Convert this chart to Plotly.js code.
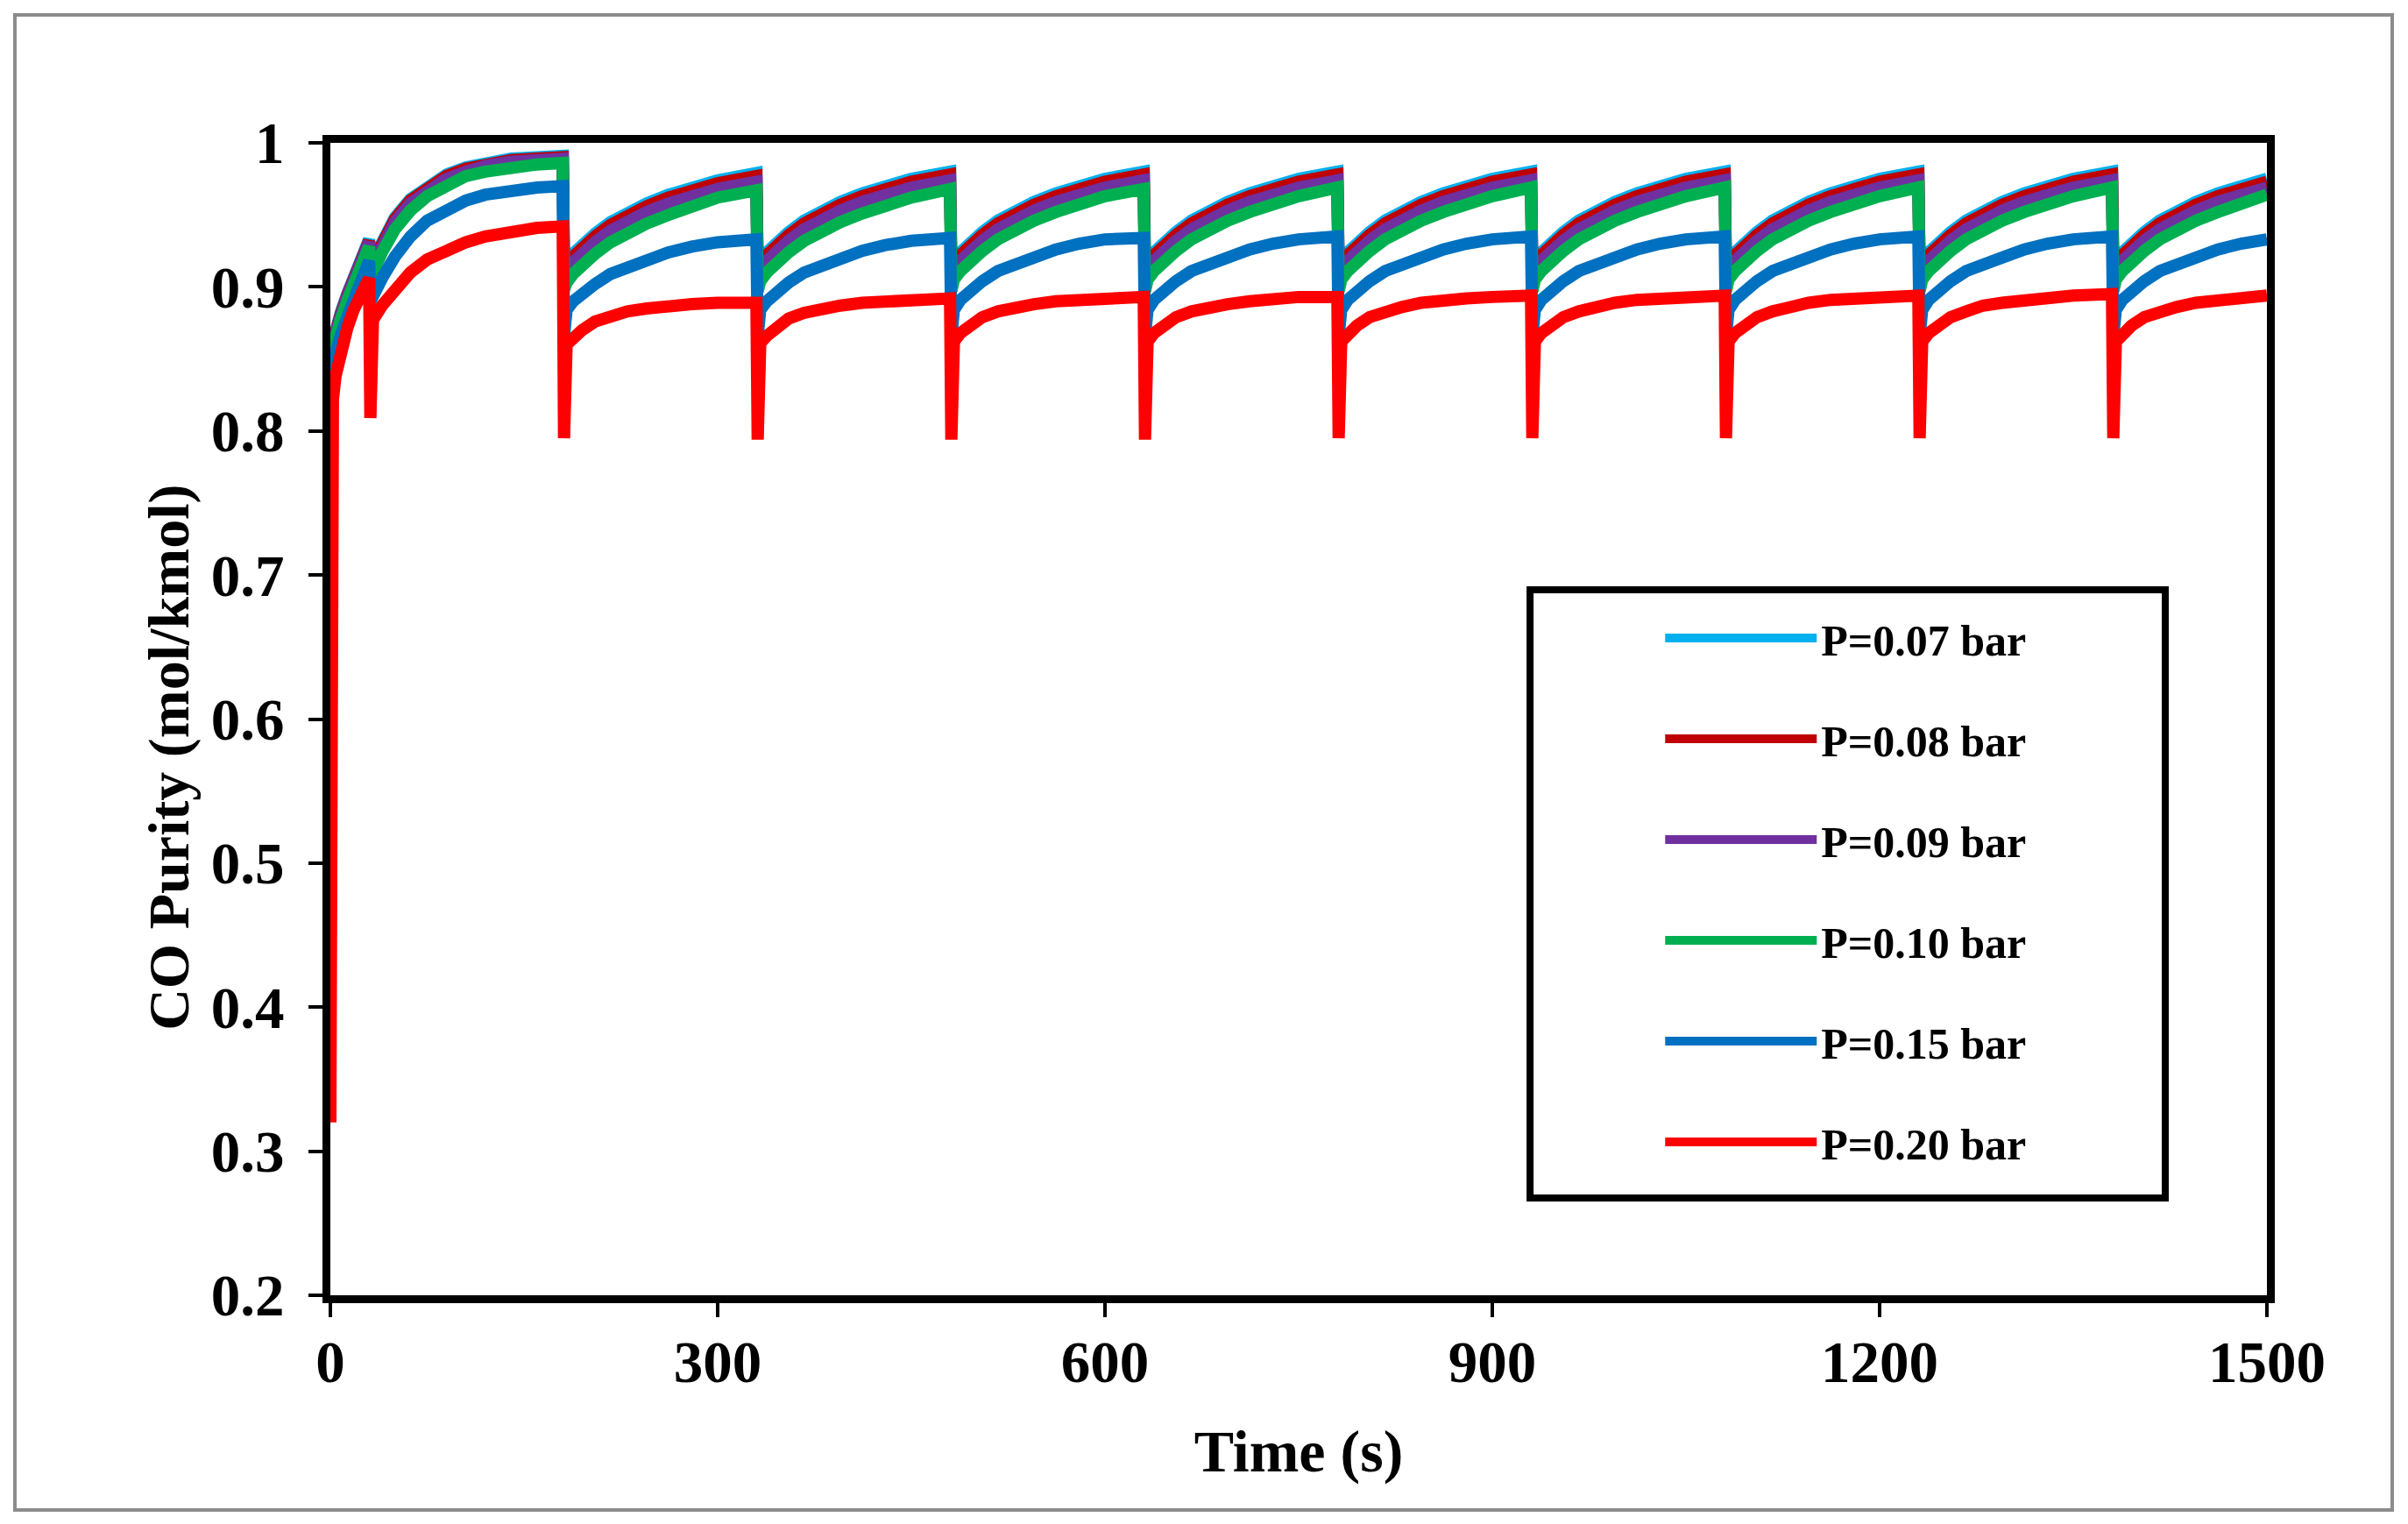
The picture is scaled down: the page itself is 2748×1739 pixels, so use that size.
<!DOCTYPE html>
<html>
<head>
<meta charset="utf-8">
<script src="https://cdn.plot.ly/plotly-3.0.1.min.js"></script>
<style>
  html, body { margin: 0; padding: 0; background: #ffffff; }
  #chart { width: 2748px; height: 1739px; }
</style>
</head>
<body>
<div id="chart"></div>
<script>
// ---- Data ----
const seriesNames = ["P=0.07 bar", "P=0.08 bar", "P=0.09 bar", "P=0.10 bar", "P=0.15 bar", "P=0.20 bar"];
const seriesColors = ["#00B0F0", "#C00000", "#7030A0", "#00B050", "#0070C0", "#FF0000"];

const timeS = [
  0, 1, 2, 4, 8, 13, 18, 24, 30, 31, 33, 40, 50, 62, 75, 90, 105, 120, 140, 160, 180,
  181, 183, 188, 195, 205, 217, 230, 245, 262, 280, 300, 330,
  331, 333, 338, 345, 355, 367, 380, 395, 412, 430, 450, 480,
  481, 483, 488, 495, 505, 517, 530, 545, 562, 580, 600, 630,
  631, 633, 638, 645, 655, 667, 680, 695, 712, 730, 750, 780,
  781, 783, 788, 795, 805, 817, 830, 845, 862, 880, 900, 930,
  931, 933, 938, 945, 955, 967, 980, 995, 1012, 1030, 1050, 1080,
  1081, 1083, 1088, 1095, 1105, 1117, 1130, 1145, 1162, 1180, 1200, 1230,
  1231, 1233, 1238, 1245, 1255, 1267, 1280, 1295, 1312, 1330, 1350, 1380,
  1381, 1383, 1388, 1395, 1405, 1417, 1430, 1445, 1462, 1480, 1500
];

const purityP007 = [
  0.856, 0.860, 0.864, 0.870, 0.882, 0.895, 0.907, 0.920, 0.933, 0.915, 0.919, 0.932, 0.948, 0.961, 0.970, 0.978, 0.983, 0.986, 0.989, 0.990, 0.991,
  0.912, 0.917, 0.923, 0.930, 0.937, 0.945, 0.952, 0.958, 0.964, 0.969, 0.974, 0.979,
  0.911, 0.918, 0.924, 0.931, 0.938, 0.946, 0.953, 0.959, 0.965, 0.970, 0.975, 0.980,
  0.911, 0.918, 0.924, 0.931, 0.938, 0.946, 0.953, 0.959, 0.965, 0.970, 0.975, 0.980,
  0.911, 0.918, 0.924, 0.931, 0.938, 0.946, 0.953, 0.959, 0.965, 0.970, 0.975, 0.980,
  0.911, 0.918, 0.924, 0.931, 0.938, 0.946, 0.953, 0.959, 0.965, 0.970, 0.975, 0.980,
  0.911, 0.918, 0.924, 0.931, 0.938, 0.946, 0.953, 0.959, 0.965, 0.970, 0.975, 0.980,
  0.911, 0.918, 0.924, 0.931, 0.938, 0.946, 0.953, 0.959, 0.965, 0.970, 0.975, 0.980,
  0.911, 0.918, 0.924, 0.931, 0.938, 0.946, 0.953, 0.959, 0.965, 0.970, 0.975, 0.980,
  0.911, 0.918, 0.924, 0.931, 0.938, 0.946, 0.953, 0.959, 0.965, 0.970, 0.975
];

const purityP008 = [
  0.855, 0.859, 0.863, 0.869, 0.881, 0.894, 0.906, 0.919, 0.932, 0.914, 0.918, 0.931, 0.947, 0.960, 0.969, 0.977, 0.982, 0.985, 0.988, 0.989, 0.990,
  0.910, 0.915, 0.921, 0.928, 0.935, 0.943, 0.950, 0.956, 0.962, 0.967, 0.972, 0.977,
  0.909, 0.916, 0.922, 0.929, 0.936, 0.944, 0.951, 0.957, 0.963, 0.968, 0.973, 0.978,
  0.909, 0.916, 0.922, 0.929, 0.936, 0.944, 0.951, 0.957, 0.963, 0.968, 0.973, 0.978,
  0.909, 0.916, 0.922, 0.929, 0.936, 0.944, 0.951, 0.957, 0.963, 0.968, 0.973, 0.978,
  0.909, 0.916, 0.922, 0.929, 0.936, 0.944, 0.951, 0.957, 0.963, 0.968, 0.973, 0.978,
  0.909, 0.916, 0.922, 0.929, 0.936, 0.944, 0.951, 0.957, 0.963, 0.968, 0.973, 0.978,
  0.909, 0.916, 0.922, 0.929, 0.936, 0.944, 0.951, 0.957, 0.963, 0.968, 0.973, 0.978,
  0.909, 0.916, 0.922, 0.929, 0.936, 0.944, 0.951, 0.957, 0.963, 0.968, 0.973, 0.978,
  0.909, 0.916, 0.922, 0.929, 0.936, 0.944, 0.951, 0.957, 0.963, 0.968, 0.973
];

const purityP009 = [
  0.854, 0.858, 0.862, 0.868, 0.880, 0.893, 0.905, 0.918, 0.931, 0.912, 0.916, 0.929, 0.945, 0.958, 0.967, 0.975, 0.980, 0.984, 0.987, 0.988, 0.989,
  0.906, 0.911, 0.917, 0.924, 0.931, 0.939, 0.946, 0.952, 0.958, 0.963, 0.968, 0.973,
  0.905, 0.912, 0.918, 0.925, 0.932, 0.940, 0.947, 0.953, 0.959, 0.964, 0.969, 0.974,
  0.905, 0.912, 0.918, 0.925, 0.932, 0.940, 0.947, 0.953, 0.959, 0.964, 0.969, 0.974,
  0.905, 0.912, 0.918, 0.925, 0.932, 0.940, 0.947, 0.953, 0.959, 0.964, 0.969, 0.974,
  0.905, 0.912, 0.918, 0.925, 0.932, 0.940, 0.947, 0.953, 0.959, 0.964, 0.969, 0.974,
  0.905, 0.912, 0.918, 0.925, 0.932, 0.940, 0.947, 0.953, 0.959, 0.964, 0.969, 0.974,
  0.905, 0.912, 0.918, 0.925, 0.932, 0.940, 0.947, 0.953, 0.959, 0.964, 0.969, 0.974,
  0.905, 0.912, 0.918, 0.925, 0.932, 0.940, 0.947, 0.953, 0.959, 0.964, 0.969, 0.974,
  0.905, 0.912, 0.918, 0.925, 0.932, 0.940, 0.947, 0.953, 0.959, 0.964, 0.969
];

const purityP010 = [
  0.852, 0.856, 0.860, 0.866, 0.877, 0.890, 0.902, 0.915, 0.928, 0.906, 0.911, 0.924, 0.940, 0.953, 0.963, 0.971, 0.977, 0.980, 0.983, 0.985, 0.986,
  0.898, 0.903, 0.909, 0.916, 0.923, 0.931, 0.938, 0.944, 0.950, 0.956, 0.962, 0.967,
  0.897, 0.904, 0.910, 0.917, 0.924, 0.932, 0.939, 0.945, 0.951, 0.957, 0.962, 0.968,
  0.897, 0.905, 0.911, 0.918, 0.925, 0.933, 0.940, 0.946, 0.952, 0.958, 0.963, 0.968,
  0.897, 0.905, 0.911, 0.918, 0.925, 0.933, 0.940, 0.946, 0.952, 0.958, 0.963, 0.969,
  0.897, 0.905, 0.911, 0.918, 0.925, 0.933, 0.940, 0.946, 0.952, 0.958, 0.963, 0.969,
  0.897, 0.905, 0.911, 0.918, 0.925, 0.933, 0.940, 0.946, 0.952, 0.958, 0.963, 0.969,
  0.897, 0.905, 0.911, 0.918, 0.925, 0.933, 0.940, 0.946, 0.952, 0.958, 0.963, 0.969,
  0.897, 0.905, 0.911, 0.918, 0.925, 0.933, 0.940, 0.946, 0.952, 0.958, 0.963, 0.969,
  0.897, 0.905, 0.911, 0.918, 0.925, 0.933, 0.940, 0.946, 0.952, 0.958, 0.964
];

const purityP015 = [
  0.842, 0.846, 0.850, 0.856, 0.866, 0.879, 0.891, 0.904, 0.918, 0.890, 0.894, 0.906, 0.921, 0.935, 0.946, 0.954, 0.960, 0.964, 0.967, 0.969, 0.970,
  0.866, 0.884, 0.890, 0.896, 0.902, 0.909, 0.914, 0.919, 0.924, 0.928, 0.931, 0.933,
  0.866, 0.884, 0.890, 0.896, 0.903, 0.910, 0.915, 0.920, 0.925, 0.929, 0.932, 0.934,
  0.866, 0.884, 0.891, 0.897, 0.904, 0.911, 0.916, 0.921, 0.926, 0.930, 0.933, 0.934,
  0.866, 0.884, 0.891, 0.897, 0.904, 0.911, 0.916, 0.921, 0.926, 0.930, 0.933, 0.935,
  0.866, 0.884, 0.891, 0.897, 0.904, 0.911, 0.916, 0.921, 0.926, 0.930, 0.933, 0.935,
  0.866, 0.884, 0.891, 0.897, 0.904, 0.911, 0.916, 0.921, 0.926, 0.930, 0.933, 0.935,
  0.866, 0.884, 0.891, 0.897, 0.904, 0.911, 0.916, 0.921, 0.926, 0.930, 0.933, 0.935,
  0.866, 0.884, 0.891, 0.897, 0.904, 0.911, 0.916, 0.921, 0.926, 0.930, 0.933, 0.935,
  0.866, 0.884, 0.891, 0.897, 0.904, 0.911, 0.916, 0.921, 0.926, 0.930, 0.933
];

const purityP020 = [
  0.320, 0.790, 0.822, 0.838, 0.856, 0.871, 0.884, 0.896, 0.906, 0.809, 0.877, 0.887, 0.899, 0.910, 0.919, 0.926, 0.931, 0.935, 0.939, 0.941, 0.942,
  0.795, 0.860, 0.865, 0.870, 0.876, 0.880, 0.883, 0.885, 0.887, 0.888, 0.889, 0.889,
  0.794, 0.861, 0.866, 0.871, 0.878, 0.882, 0.885, 0.887, 0.889, 0.890, 0.891, 0.892,
  0.794, 0.862, 0.868, 0.873, 0.879, 0.883, 0.886, 0.888, 0.890, 0.891, 0.892, 0.893,
  0.794, 0.862, 0.868, 0.873, 0.879, 0.883, 0.886, 0.888, 0.890, 0.892, 0.893, 0.893,
  0.795, 0.862, 0.868, 0.873, 0.879, 0.883, 0.886, 0.889, 0.891, 0.892, 0.893, 0.894,
  0.795, 0.862, 0.868, 0.873, 0.879, 0.883, 0.886, 0.889, 0.891, 0.892, 0.893, 0.894,
  0.795, 0.862, 0.868, 0.873, 0.879, 0.883, 0.886, 0.889, 0.891, 0.892, 0.893, 0.894,
  0.795, 0.862, 0.868, 0.873, 0.879, 0.883, 0.887, 0.889, 0.891, 0.893, 0.894, 0.895,
  0.795, 0.862, 0.868, 0.873, 0.879, 0.883, 0.886, 0.889, 0.891, 0.892, 0.894
];

const xTickVals = [0, 300, 600, 900, 1200, 1500];
const yTickVals = [0.2, 0.3, 0.4, 0.5, 0.6, 0.7, 0.8, 0.9, 1];
const xTitle = 'Time (s)';
const yTitle = 'CO Purity (mol/kmol)';

const seriesValues = [purityP007, purityP008, purityP009, purityP010, purityP015, purityP020];

// ---- Traces ----
const traces = seriesValues.map((vals, i) => ({
  type: 'scatter',
  mode: 'lines',
  x: timeS,
  y: vals,
  name: seriesNames[i],
  legendgroup: 'g' + i,
  line: { color: seriesColors[i], width: 14 },
  hoverinfo: 'x+y+name'
}));

const serif = 'Liberation Serif, Times New Roman, serif';

const layout = {
  width: 2748,
  height: 1739,
  margin: { l: 377, r: 161, t: 163, b: 261, pad: 0 },
  paper_bgcolor: '#ffffff',
  plot_bgcolor: '#ffffff',
  showlegend: true,
  font: { family: serif, color: '#000000', weight: 'bold' },
  xaxis: {
    range: [0, 1500],
    tickvals: xTickVals,
    ticktext: xTickVals.map(String),
    showgrid: false,
    zeroline: false,
    showline: true,
    linecolor: '#000000',
    linewidth: 9,
    mirror: true,
    ticks: 'outside',
    ticklen: 16,
    tickwidth: 4,
    tickcolor: '#000000',
    ticklabelstandoff: -6,
    tickfont: { family: serif, size: 67, color: '#000000', weight: 'bold' },
    title: { text: xTitle, font: { family: serif, size: 68, color: '#000000', weight: 'bold' }, standoff: 44 }
  },
  yaxis: {
    range: [0.2, 1],
    tickvals: yTickVals,
    ticktext: yTickVals.map(String),
    showgrid: false,
    zeroline: false,
    showline: true,
    linecolor: '#000000',
    linewidth: 9,
    mirror: true,
    ticks: 'outside',
    ticklen: 16,
    tickwidth: 4,
    tickcolor: '#000000',
    ticklabelstandoff: 14,
    tickfont: { family: serif, size: 67, color: '#000000', weight: 'bold' }
  },
  annotations: [
    { text: yTitle, xref: 'paper', yref: 'paper', x: -0.0833, y: 0.467, xanchor: 'center', yanchor: 'middle',
      textangle: -90, showarrow: false,
      font: { family: serif, size: 66, color: '#000000', weight: 'bold' } }
  ],
  legend: {
    x: 0.687,
    y: 0.600,
    xanchor: 'left',
    yanchor: 'top',
    bgcolor: 'rgba(0,0,0,0)',
    borderwidth: 0,
    traceorder: 'grouped',
    tracegroupgap: 47,
    itemwidth: 173,
    font: { family: serif, size: 50, color: '#000000', weight: 'bold' }
  },
  shapes: [
    { type: 'rect', xref: 'paper', yref: 'paper', x0: -0.1629, x1: 1.0647, y0: -0.1863, y1: 1.111,
      line: { color: '#8c8c8c', width: 4 }, fillcolor: 'rgba(0,0,0,0)', layer: 'below' },
    { type: 'rect', xref: 'paper', yref: 'paper', x0: 0.6195, x1: 0.9475, y0: 0.0844, y1: 0.6122,
      line: { color: '#000000', width: 8 }, fillcolor: 'rgba(0,0,0,0)', layer: 'above' }
  ]
};

Plotly.newPlot('chart', traces, layout, { displayModeBar: false, staticPlot: true });
</script>
</body>
</html>
